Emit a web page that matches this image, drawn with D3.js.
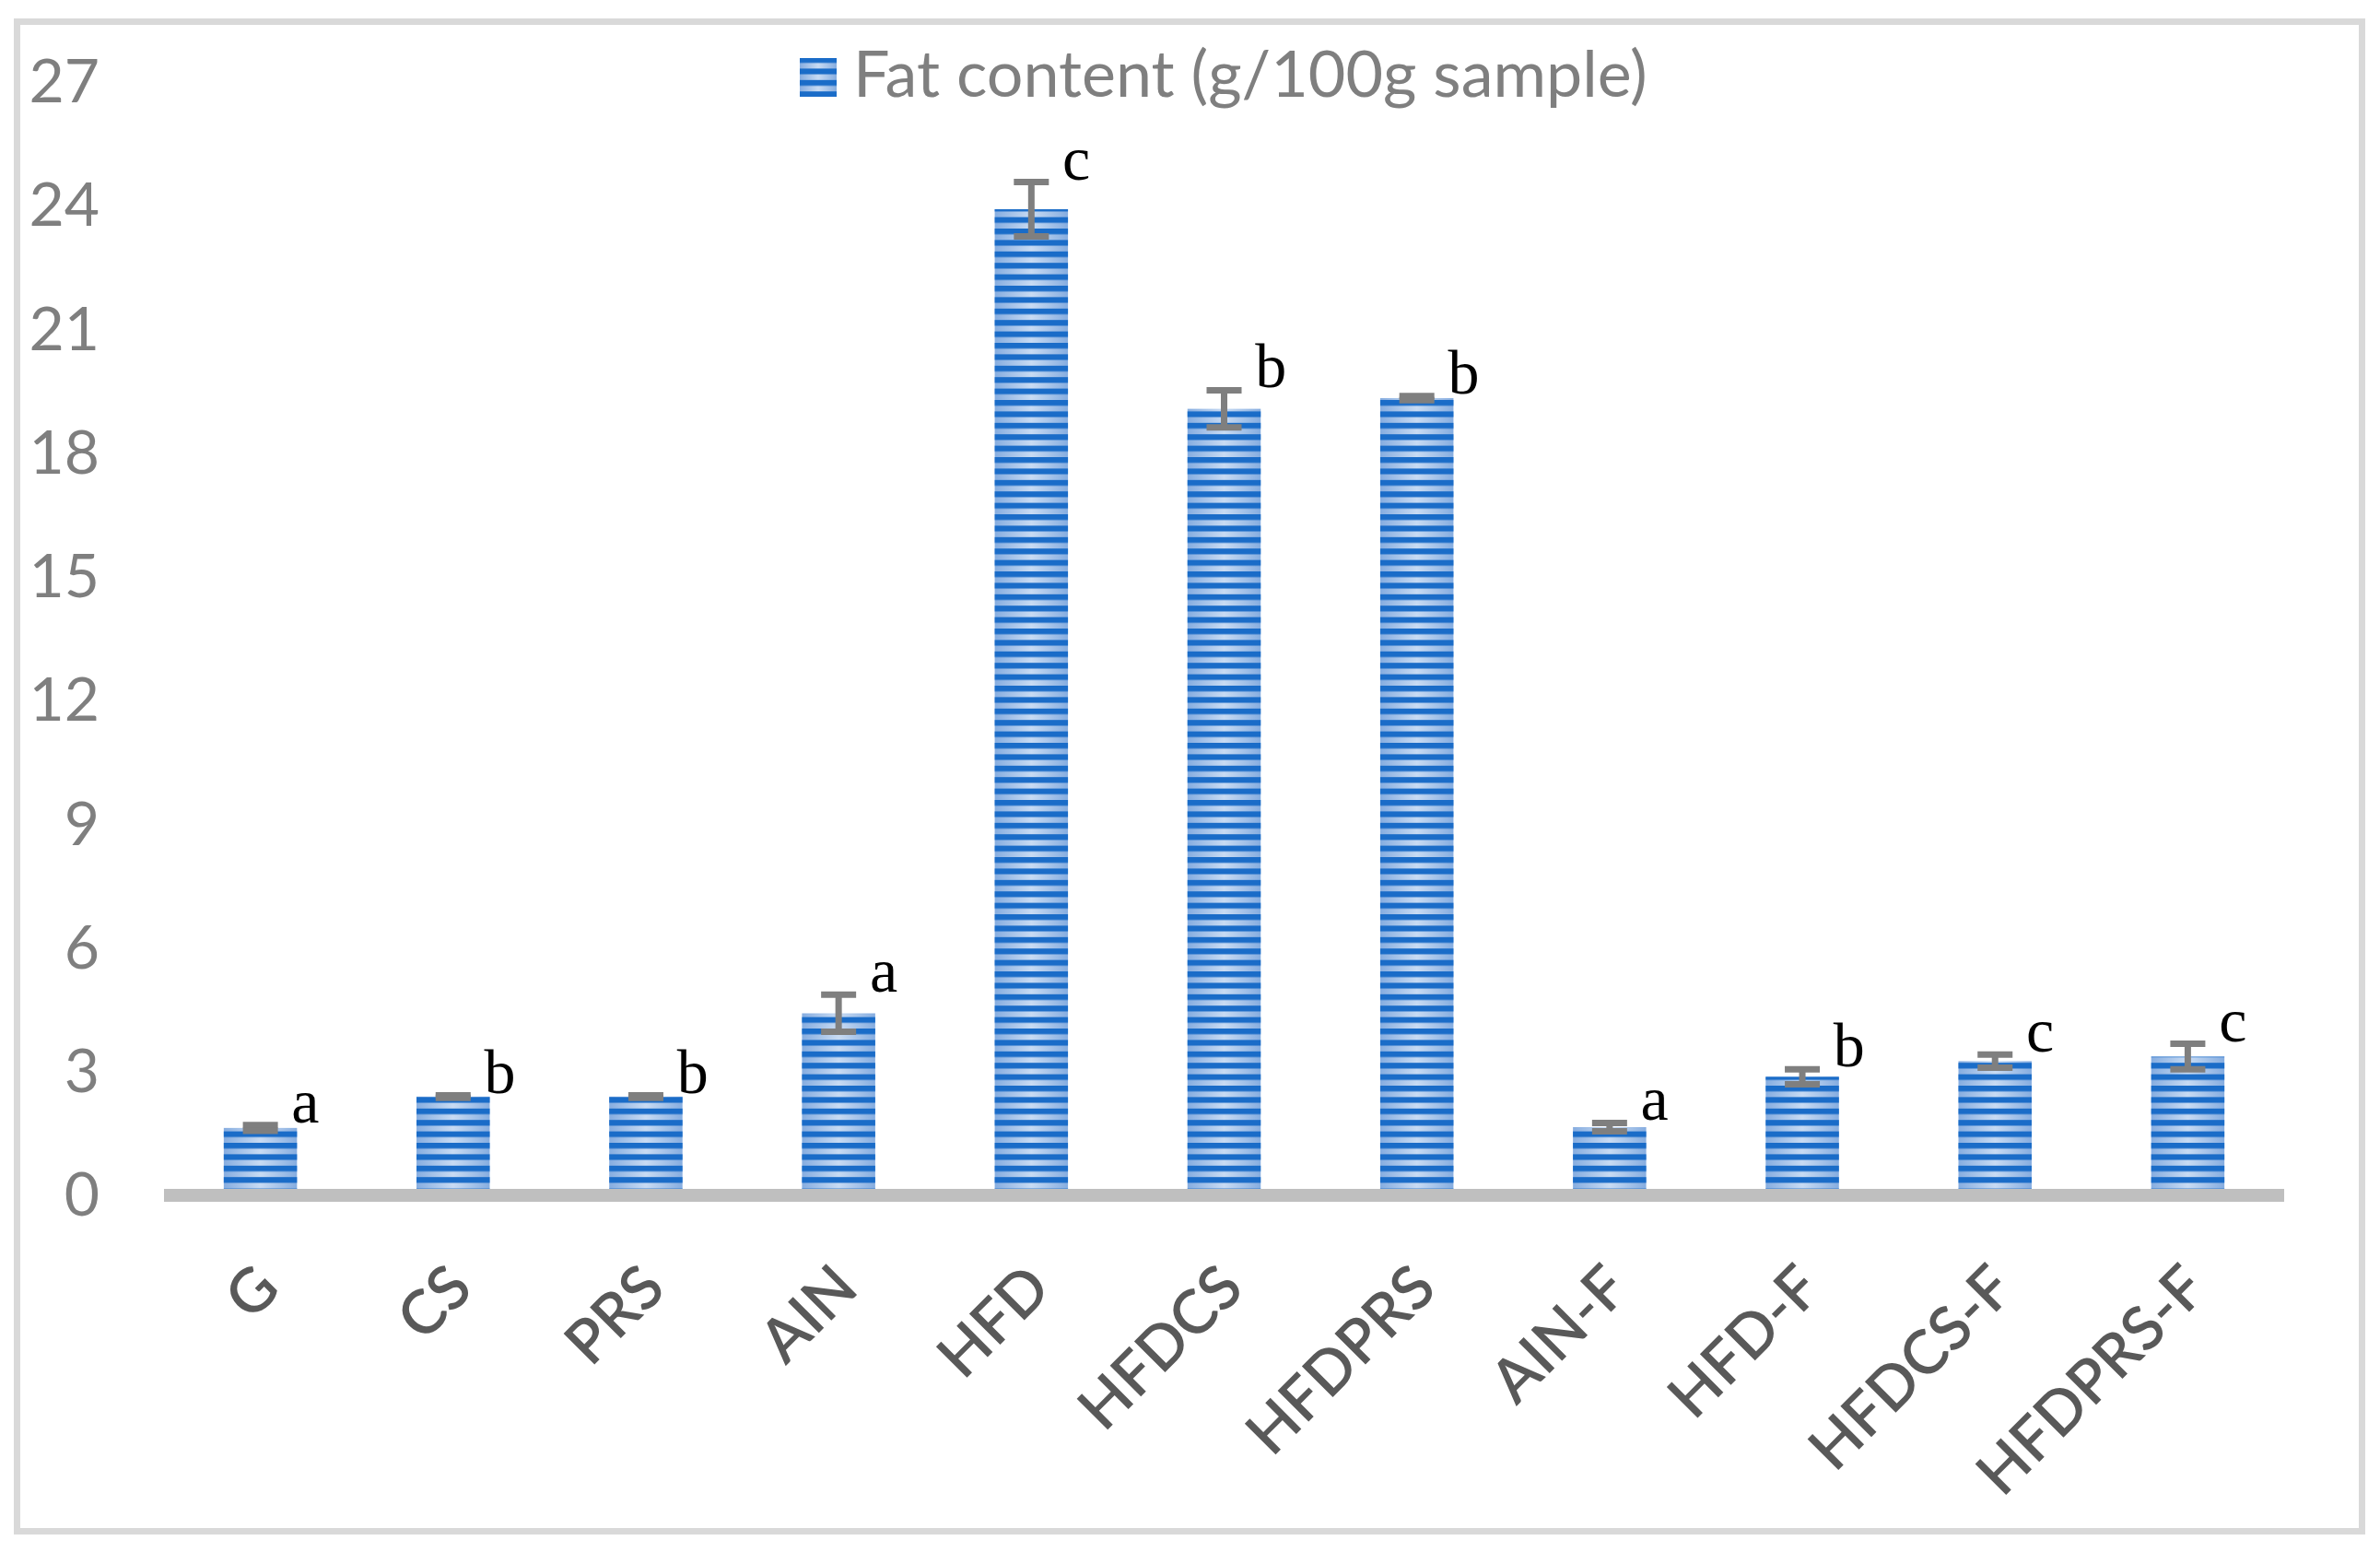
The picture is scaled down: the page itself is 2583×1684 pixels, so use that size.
<!DOCTYPE html>
<html>
<head>
<meta charset="utf-8">
<script src="https://cdn.jsdelivr.net/npm/d3@7"></script>
<style>
  body { margin: 0; background: #fff; }
</style>
</head>
<body>
<div id="chart"></div>
<script>
const width = 2583
const height = 1684

// data
const groups = ["G", "CS", "PRS", "AIN", "HFD", "HFDCS", "HFDPRS", "AIN-F", "HFD-F", "HFDCS-F", "HFDPRS-F"]
const fatContent = [1.59, 2.35, 2.35, 4.37, 23.87, 19.03, 19.29, 1.61, 2.83, 3.21, 3.32]
const fatError = [0.07, 0.03, 0.03, 0.45, 0.66, 0.45, 0.05, 0.10, 0.18, 0.16, 0.31]
const letters = ["a", "b", "b", "a", "c", "b", "b", "a", "b", "c", "c"]
const yTicks = [0, 3, 6, 9, 12, 15, 18, 21, 24, 27]
const seriesName = "Fat content (g/100g sample)"

const rows = groups.map((g, i) => ({ group: g, value: fatContent[i], err: fatError[i], letter: letters[i] }))

const sansFont = "Lato, 'Open Sans', sans-serif"
const serifFont = "'Liberation Serif', 'Times New Roman', serif"

const svg = d3.select("#chart")
              .append("svg")
              .attr("width", width)
              .attr("height", height)

const defs = svg.append("defs")

// light part of the bars: brighter in the middle
const grad = defs.append("linearGradient")
                 .attr("id", "barGrad")
                 .attr("x1", 0).attr("x2", 1).attr("y1", 0).attr("y2", 0)
grad.append("stop").attr("offset", "0%").attr("stop-color", "#86ade0")
grad.append("stop").attr("offset", "50%").attr("stop-color", "#c8dbf3")
grad.append("stop").attr("offset", "100%").attr("stop-color", "#86ade0")

// dark horizontal stripes
const stripes = defs.append("pattern")
                    .attr("id", "stripes")
                    .attr("patternUnits", "userSpaceOnUse")
                    .attr("width", 20)
                    .attr("height", 12.4)
stripes.append("rect")
       .attr("width", 20)
       .attr("height", 6.2)
       .attr("fill", "#1a6cc8")

// chart frame
svg.append("rect")
   .attr("x", 18.5)
   .attr("y", 23.5)
   .attr("width", 2545)
   .attr("height", 1638)
   .attr("fill", "#fff")
   .attr("stroke", "#d9d9d9")
   .attr("stroke-width", 7)

const x = d3.scaleBand()
            .domain(groups)
            .range([178, 2479])
            .paddingInner(0.62)
            .paddingOuter(0.31)

const y = d3.scaleLinear()
            .domain([0, 27])
            .range([1295, 87])

// y axis labels
const yAxis = svg.append("g")
                 .attr("transform", "translate(110,0)")
                 .call(d3.axisLeft(y).tickValues(yTicks).tickSize(0).tickPadding(2))
yAxis.select(".domain").remove()
yAxis.selectAll("text")
     .attr("font-family", sansFont)
     .attr("font-size", 66)
     .attr("fill", "#7f7f7f")
     .attr("dy", "0.36em")

// bars
const bar = svg.append("g")
               .selectAll("g")
               .data(rows)
               .join("g")

bar.append("rect")
   .attr("x", d => x(d.group))
   .attr("y", d => y(d.value))
   .attr("width", x.bandwidth())
   .attr("height", d => y(0) - y(d.value))
   .attr("fill", "url(#barGrad)")

bar.append("rect")
   .attr("x", d => x(d.group))
   .attr("y", d => y(d.value))
   .attr("width", x.bandwidth())
   .attr("height", d => y(0) - y(d.value))
   .attr("fill", "url(#stripes)")

// error bars
const cx = d => x(d.group) + x.bandwidth() / 2
const errG = svg.append("g")
                .attr("stroke", "#7f7f7f")
                .attr("stroke-width", 7)

errG.selectAll(".stem")
    .data(rows)
    .join("line")
    .attr("class", "stem")
    .attr("x1", cx).attr("x2", cx)
    .attr("y1", d => y(d.value + d.err))
    .attr("y2", d => y(d.value - d.err))

errG.selectAll(".capTop")
    .data(rows)
    .join("line")
    .attr("class", "capTop")
    .attr("x1", d => cx(d) - 19).attr("x2", d => cx(d) + 19)
    .attr("y1", d => y(d.value + d.err))
    .attr("y2", d => y(d.value + d.err))

errG.selectAll(".capBot")
    .data(rows)
    .join("line")
    .attr("class", "capBot")
    .attr("x1", d => cx(d) - 19).attr("x2", d => cx(d) + 19)
    .attr("y1", d => y(d.value - d.err))
    .attr("y2", d => y(d.value - d.err))

// significance letters
svg.append("g")
   .selectAll("text")
   .data(rows)
   .join("text")
   .attr("x", d => x(d.group) + x.bandwidth() - 6)
   .attr("y", d => y(d.value + d.err) - 3)
   .attr("font-family", serifFont)
   .attr("font-size", 68)
   .attr("fill", "#000")
   .text(d => d.letter)

// x axis line and labels
svg.append("line")
   .attr("x1", x.range()[0])
   .attr("x2", x.range()[1])
   .attr("y1", y(0) + 2)
   .attr("y2", y(0) + 2)
   .attr("stroke", "#bfbfbf")
   .attr("stroke-width", 14)

const xAxis = svg.append("g")
                 .attr("transform", `translate(0,${y(0)})`)
                 .call(d3.axisBottom(x).tickSize(0))
xAxis.select(".domain").remove()
xAxis.selectAll("text")
     .attr("x", 0).attr("y", 0).attr("dy", 0)
     .attr("transform", "translate(24,106) rotate(-45)")
     .style("text-anchor", "end")
     .attr("font-family", sansFont)
     .attr("font-size", 66)
     .attr("font-weight", 600)
     .attr("fill", "#595959")

// legend
const legend = svg.append("g")
legend.append("rect")
      .attr("x", 868).attr("y", 63)
      .attr("width", 40).attr("height", 42)
      .attr("fill", "url(#barGrad)")
legend.append("rect")
      .attr("x", 868).attr("y", 63)
      .attr("width", 40).attr("height", 42)
      .attr("fill", "url(#stripes)")
legend.append("text")
      .attr("x", 926)
      .attr("y", 105)
      .attr("font-family", sansFont)
      .attr("font-size", 70)
      .attr("fill", "#7f7f7f")
      .text(seriesName)
</script>
</body>
</html>
